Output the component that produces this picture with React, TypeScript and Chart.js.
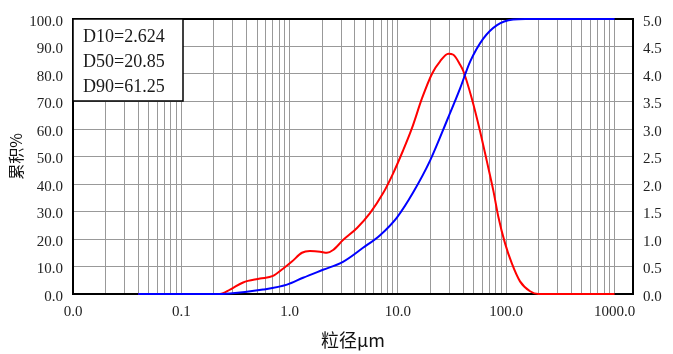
import React, { useEffect, useRef } from "react";
import { Chart, registerables } from "chart.js";

Chart.register(...registerables);

// ---- data ----
const decadeTicks = [0.01, 0.1, 1, 10, 100, 1000];
const minorMultipliers = [2, 3, 4, 5, 6, 7, 8, 9];

const leftTickStep = 10; // 累积%
const rightTickStep = 0.5; // frequency

const statLabels = ["D10=2.624", "D50=20.85", "D90=61.25"];

const freqSizes = [0.04, 0.227, 0.282, 0.372, 0.533, 0.703, 0.869, 1.05, 1.3, 1.54, 1.91, 2.21, 2.52, 3.11, 4.19, 5.52, 7.28, 9.01, 11.1, 13.5, 16.7, 20.7, 24.5, 29.2, 32.5, 37.5, 40.2, 48.0, 57.3, 66.1, 76.0, 84.6, 97.5, 112.4, 134, 166, 198, 1000];
const freqValues = [0, 0, 0.08, 0.21, 0.28, 0.33, 0.46, 0.59, 0.75, 0.78, 0.77, 0.75, 0.8, 0.98, 1.2, 1.47, 1.83, 2.19, 2.6, 3.02, 3.56, 4.01, 4.23, 4.37, 4.35, 4.17, 4.05, 3.56, 2.96, 2.42, 1.88, 1.4, 0.92, 0.56, 0.23, 0.05, 0, 0];

const cumSizes = [0.04, 0.2, 0.282, 0.568, 0.946, 1.33, 2.03, 3.11, 4.76, 6.84, 9.82, 13.8, 19.8, 29.0, 37.5, 46.4, 61.1, 82.2, 115.6, 150, 1000];
const cumValues = [0, 0, 0.2, 1.6, 3.4, 5.9, 8.8, 11.7, 16.8, 21.4, 27.9, 36.9, 48.5, 64.0, 74.8, 84.5, 92.8, 97.8, 99.8, 100, 100];

const X_MIN = 0.01;
const X_MAX = 1480;

const TICK_FONT = { family: "'Liberation Serif', 'DejaVu Serif', serif", size: 15 };
const CJK_FONT = "'Noto Sans CJK SC', sans-serif";

export default function App() {
  const ref = useRef<HTMLCanvasElement | null>(null);

  useEffect(() => {
    if (!ref.current) return;

    const gridValues: number[] = [];
    decadeTicks.forEach((d, i) => {
      gridValues.push(d);
      if (i < decadeTicks.length - 1) minorMultipliers.forEach((m) => gridValues.push(Number((d * m).toPrecision(6))));
    });

    const framePlugin = {
      id: "frame",
      beforeDatasetsDraw(chart: any) {
        const { ctx, chartArea } = chart;
        ctx.save();
        ctx.strokeStyle = "#000";
        ctx.lineWidth = 2;
        ctx.strokeRect(chartArea.left, chartArea.top, chartArea.right - chartArea.left, chartArea.bottom - chartArea.top);
        ctx.restore();
      },
      afterDraw(chart: any) {
        const { ctx, chartArea } = chart;
        ctx.save();
        const w = 110, h = 82;
        ctx.fillStyle = "#fff";
        ctx.fillRect(chartArea.left, chartArea.top, w, h);
        ctx.strokeStyle = "#000";
        ctx.lineWidth = 1.5;
        ctx.strokeRect(chartArea.left, chartArea.top, w, h);
        ctx.fillStyle = "#1a1a1a";
        ctx.font = "18px 'Liberation Serif', serif";
        ctx.textBaseline = "middle";
        ctx.textAlign = "left";
        statLabels.forEach((t, i) => ctx.fillText(t, chartArea.left + 10, chartArea.top + 18 + i * 25));
        ctx.restore();
      },
    };

    const chart = new Chart(ref.current, {
      type: "line",
      data: {
        datasets: [
          {
            label: "cum",
            data: cumSizes.map((x, i) => ({ x, y: cumValues[i] })),
            borderColor: "#0000ff",
            borderWidth: 2,
            pointRadius: 0,
            cubicInterpolationMode: "monotone",
            clip: false,
            yAxisID: "y",
          },
          {
            label: "freq",
            data: freqSizes.map((x, i) => ({ x, y: freqValues[i] })),
            borderColor: "#ff0000",
            borderWidth: 2,
            pointRadius: 0,
            cubicInterpolationMode: "monotone",
            clip: false,
            yAxisID: "y1",
          },
        ],
      },
      options: {
        responsive: false,
        animation: false,
        devicePixelRatio: 1,
        layout: { padding: { top: 17, left: 0, right: 0, bottom: 0 } },
        plugins: { legend: { display: false }, tooltip: { enabled: false } },
        scales: {
          x: {
            type: "logarithmic",
            min: X_MIN,
            max: X_MAX,
            afterBuildTicks: (scale: any) => {
              scale.ticks = gridValues.map((v) => ({ value: v }));
            },
            afterFit: (scale: any) => {
              scale.height = 60;
            },
            ticks: {
              autoSkip: false,
              maxRotation: 0,
              minRotation: 0,
              padding: 9,
              color: "#222",
              font: TICK_FONT,
              callback: (v: any) => {
                const n = Number(v);
                return decadeTicks.some((d) => Math.abs(d - n) / d < 1e-6) ? n.toFixed(1) : "";
              },
            },
            grid: { color: "#999", lineWidth: 1, drawTicks: false },
            border: { display: false },
            title: {
              display: true,
              text: "粒径μm",
              color: "#111",
              font: { family: CJK_FONT, size: 18 },
              padding: { top: 0, bottom: 3 },
            },
          },
          y: {
            type: "linear",
            position: "left",
            min: 0,
            max: 100,
            afterFit: (scale: any) => {
              scale.width = 73;
            },
            ticks: {
              stepSize: leftTickStep,
              padding: 10,
              labelOffset: 3,
              color: "#222",
              font: TICK_FONT,
              callback: (v: any) => Number(v).toFixed(1),
            },
            grid: { color: "#999", lineWidth: 1, drawTicks: false },
            border: { display: false },
            title: {
              display: true,
              text: "累积%",
              color: "#111",
              font: { family: CJK_FONT, size: 16 },
              padding: { top: 6, bottom: 0 },
            },
          },
          y1: {
            type: "linear",
            position: "right",
            min: 0,
            max: 5,
            afterFit: (scale: any) => {
              scale.width = 40;
            },
            ticks: {
              stepSize: rightTickStep,
              padding: 10,
              labelOffset: 3,
              color: "#222",
              font: TICK_FONT,
              callback: (v: any) => Number(v).toFixed(1),
            },
            grid: { display: false, drawTicks: false },
            border: { display: false },
          },
        },
      } as any,
      plugins: [framePlugin],
    });

    return () => chart.destroy();
  }, []);

  return (
    <div style={{ position: "fixed", left: 0, top: 0, width: 673, height: 354, background: "#fff" }}>
      <canvas ref={ref} width={673} height={354} style={{ width: 673, height: 354 }} />
    </div>
  );
}
